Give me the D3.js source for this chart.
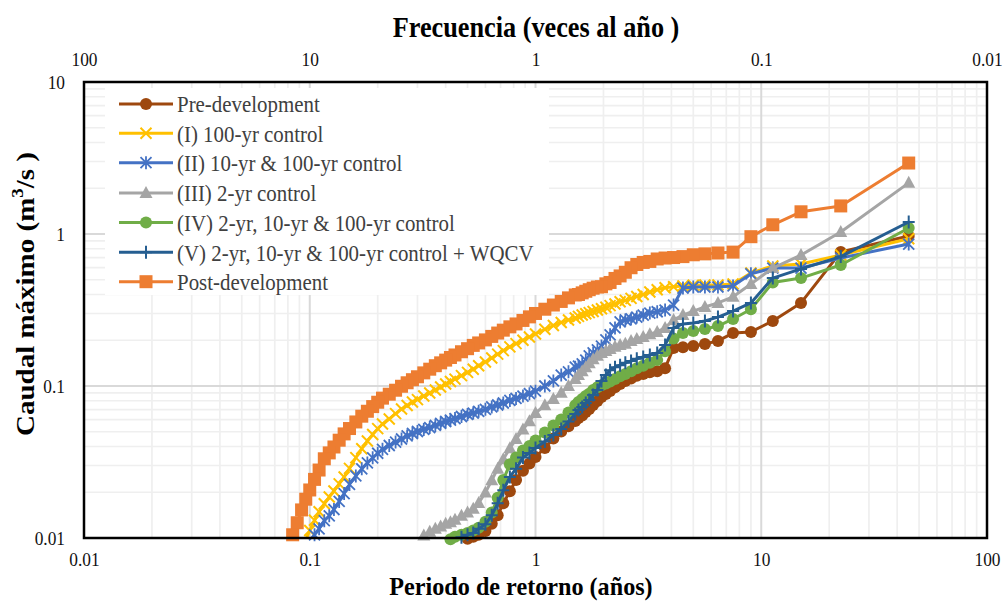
<!DOCTYPE html>
<html><head><meta charset="utf-8">
<script src="https://cdn.jsdelivr.net/npm/d3@7"></script>
<style>body{margin:0;background:#fff}svg{display:block}</style>
</head><body><svg id="chart" width="1004" height="601"></svg>
<script>
// Return period (years) shared by all series
const returnPeriod = [45, 22.5, 15, 11.25, 9, 7.5, 6.43, 5.63, 5, 4.5, 4.09, 3.75, 3.46, 3.21, 3, 2.81, 2.65, 2.5, 2.37, 2.25, 2.14, 2.05, 1.96, 1.88, 1.8, 1.73, 1.67, 1.61, 1.55, 1.5,
  1.4, 1.3, 1.2, 1.1, 1.0,
  0.94, 0.88, 0.82, 0.77, 0.72, 0.68, 0.64, 0.60, 0.56, 0.53, 0.50, 0.47, 0.44, 0.42, 0.40, 0.38, 0.36, 0.34, 0.32, 0.30,
  0.285, 0.27, 0.255, 0.24, 0.225, 0.21, 0.20, 0.19, 0.18, 0.17, 0.16, 0.15, 0.142, 0.135, 0.128, 0.122, 0.116, 0.11, 0.105, 0.10,
  0.096, 0.092, 0.088, 0.084, 0.080];

const preDevelopment = [0.97, 0.761, 0.352, 0.268, 0.227, 0.223, 0.198, 0.189, 0.183, 0.18, 0.178, 0.131, 0.125, 0.123, 0.12, 0.117, 0.112, 0.108, 0.103, 0.098, 0.0928, 0.0886, 0.0846, 0.0797, 0.075, 0.0706, 0.0674, 0.0639, 0.0616, 0.0588,
  0.0544, 0.0502, 0.0451, 0.0391, 0.0341,
  0.0309, 0.0277, 0.0241, 0.0203, 0.0169, 0.0141, 0.0124, 0.0111, 0.0105, 0.0102, 0.0099, 0.0097, null, null, null, null, null, null, null, null,
  null, null, null, null, null, null, null, null, null, null, null, null, null, null, null, null, null, null, null, null,
  null, null, null, null, null];

const control100 = [0.93, 0.727, 0.635, 0.616, 0.554, 0.469, 0.462, 0.462, 0.46, 0.455, 0.45, 0.443, 0.43, 0.415, 0.40, 0.388, 0.377, 0.366, 0.358, 0.346, 0.338, 0.33, 0.322, 0.316, 0.309, 0.304, 0.299, 0.293, 0.287, 0.28,
  0.272, 0.262, 0.25, 0.236, 0.22,
  0.21, 0.20, 0.19, 0.181, 0.171, 0.162, 0.153, 0.144, 0.136, 0.129, 0.123, 0.117, 0.111, 0.107, 0.103, 0.0985, 0.0941, 0.0899, 0.0859, 0.0814,
  0.0785, 0.0744, 0.0706, 0.0658, 0.0607, 0.0562, 0.0524, 0.048, 0.0435, 0.0387, 0.0338, 0.0287, 0.0252, 0.0227, 0.0204, 0.0186, 0.0168, 0.0149, 0.0131, 0.0112,
  0.0097, null, null, null, null];

const control10and100 = [0.859, 0.695, 0.597, 0.597, 0.547, 0.455, 0.448, 0.448, 0.448, 0.441, 0.341, 0.316, 0.308, 0.302, 0.293, 0.284, 0.276, 0.272, 0.264, 0.241, 0.217, 0.201, 0.183, 0.173, 0.165, 0.158, 0.148, 0.14, 0.135, 0.133,
  0.124, 0.118, 0.108, 0.10, 0.0925,
  0.089, 0.0859, 0.0828, 0.0804, 0.0773, 0.075, 0.0728, 0.0702, 0.0681, 0.0664, 0.065, 0.063, 0.0611, 0.0597, 0.0584, 0.0567, 0.055, 0.0533, 0.0518, 0.0502,
  0.0487, 0.0469, 0.0448, 0.0428, 0.0406, 0.0383, 0.0361, 0.0337, 0.0312, 0.0285, 0.0256, 0.0225, 0.0196, 0.0174, 0.0154, 0.014, 0.013, 0.0115, 0.0105, 0.0096,
  null, null, null, null, null];

const control2 = [2.17, 1.03, 0.727, 0.597, 0.469, 0.386, 0.352, 0.331, 0.311, 0.293, 0.272, 0.241, 0.227, 0.219, 0.21, 0.204, 0.198, 0.19, 0.186, 0.181, 0.175, 0.17, 0.165, 0.158, 0.15, 0.141, 0.133, 0.125, 0.118, 0.111,
  0.10, 0.0903, 0.0821, 0.0746, 0.0664,
  0.0587, 0.0517, 0.0448, 0.0389, 0.033, 0.0286, 0.024, 0.0199, 0.017, 0.0156, 0.0147, 0.014, 0.0132, 0.0127, 0.0124, 0.0119, 0.0115, 0.011, 0.0104, 0.0097,
  null, null, null, null, null, null, null, null, null, null, null, null, null, null, null, null, null, null, null, null,
  null, null, null, null, null];

const control2_10_100 = [1.095, 0.625, 0.513, 0.48, 0.32, 0.276, 0.248, 0.237, 0.23, 0.223, 0.205, 0.169, 0.148, 0.142, 0.136, 0.131, 0.125, 0.12, 0.116, 0.111, 0.107, 0.104, 0.101, 0.098, 0.0941, 0.089, 0.0859, 0.0821, 0.0785, 0.0746,
  0.0669, 0.0603, 0.055, 0.0495, 0.0438,
  0.0403, 0.0376, 0.0339, 0.0306, 0.0241, 0.0184, 0.0147, 0.0128, 0.0117, 0.0112, 0.0108, 0.0105, 0.0102, 0.0098, null, null, null, null, null, null,
  null, null, null, null, null, null, null, null, null, null, null, null, null, null, null, null, null, null, null, null,
  null, null, null, null, null];

const control2_10_100_wqcv = [1.2, 0.71, 0.589, 0.513, 0.352, 0.311, 0.284, 0.268, 0.26, 0.256, 0.241, 0.186, 0.165, 0.16, 0.155, 0.151, 0.146, 0.142, 0.137, 0.133, 0.127, 0.118, 0.108, 0.0941, 0.0873, 0.0809, 0.0773, 0.0728, 0.0695, 0.0654,
  0.0584, 0.0522, 0.0476, 0.0432, 0.0391,
  0.0362, 0.0338, 0.0286, 0.0252, 0.0206, 0.0169, 0.0141, 0.0123, 0.0115, 0.0108, 0.0105, 0.0101, 0.0097, null, null, null, null, null, null, null,
  null, null, null, null, null, null, null, null, null, null, null, null, null, null, null, null, null, null, null, null,
  null, null, null, null, null];

const postDevelopment = [2.93, 1.53, 1.40, 1.15, 0.96, 0.76, 0.75, 0.74, 0.73, 0.71, 0.70, 0.695, 0.685, 0.66, 0.65, 0.63, 0.60, 0.56, 0.53, 0.51, 0.48, 0.47, 0.45, 0.448, 0.44, 0.43, 0.42, 0.41, 0.40, 0.397,
  0.38, 0.36, 0.341, 0.32, 0.30,
  0.285, 0.27, 0.256, 0.245, 0.233, 0.223, 0.212, 0.201, 0.192, 0.185, 0.176, 0.168, 0.160, 0.154, 0.148, 0.142, 0.136, 0.129, 0.122, 0.115,
  0.110, 0.105, 0.0996, 0.0938, 0.0883, 0.0832, 0.0782, 0.0732, 0.0682, 0.0633, 0.058, 0.0525, 0.0484, 0.044, 0.0397, 0.0363, 0.0332, 0.028, 0.0243, 0.0207,
  0.018, 0.0153, 0.0126, 0.0105, 0.0088];

const seriesNames = ["Pre-development", "(I) 100-yr control", "(II) 10-yr & 100-yr control", "(III) 2-yr control",
  "(IV) 2-yr, 10-yr & 100-yr control", "(V) 2-yr, 10-yr & 100-yr control + WQCV", "Post-development"];
const seriesValues = [preDevelopment, control100, control10and100, control2, control2_10_100, control2_10_100_wqcv, postDevelopment];
const seriesColors = ["#9E480E", "#FFC000", "#4472C4", "#A5A5A5", "#70AD47", "#255E91", "#ED7D31"];
const seriesMarkers = ["circle", "x", "star", "triangle", "circle", "plus", "square"];

const xTickValues = [0.01, 0.1, 1, 10, 100];
const xTickLabels = ["0.01", "0.1", "1", "10", "100"];
const topTickValues = [100, 10, 1, 0.1, 0.01];
const topTickLabels = ["100", "10", "1", "0.1", "0.01"];
const yTickValues = [0.01, 0.1, 1, 10];
const yTickLabels = ["0.01", "0.1", "1", "10"];

const svg = d3.select("#chart");
const L = 84, R = 987, T = 82, B = 538;
const font = "'Liberation Serif','Times New Roman',serif";
const SX = 0.89; // horizontal squeeze of the lettering

const x = d3.scaleLog().domain([0.01, 100]).range([L, R]);
const xTop = d3.scaleLog().domain([100, 0.01]).range([L, R]);
const y = d3.scaleLog().domain([0.01, 10]).range([B, T]);

// gridlines
const grid = svg.append("g");
const isMajor = v => Math.abs(Math.log10(v) - Math.round(Math.log10(v))) < 1e-9;
x.ticks().filter(v => !isMajor(v)).forEach(v => grid.append("line").attr("x1", x(v)).attr("x2", x(v)).attr("y1", T).attr("y2", B).attr("stroke", "#efefef").attr("stroke-width", 1.7));
y.ticks().filter(v => !isMajor(v)).forEach(v => grid.append("line").attr("y1", y(v)).attr("y2", y(v)).attr("x1", L).attr("x2", R).attr("stroke", "#efefef").attr("stroke-width", 1.7));
xTickValues.forEach(v => grid.append("line").attr("x1", x(v)).attr("x2", x(v)).attr("y1", T).attr("y2", B).attr("stroke", "#d9d9d9").attr("stroke-width", 2));
yTickValues.forEach(v => grid.append("line").attr("y1", y(v)).attr("y2", y(v)).attr("x1", L).attr("x2", R).attr("stroke", "#d9d9d9").attr("stroke-width", 2));

// axes labels
const axB = d3.axisBottom(x).tickValues(xTickValues).tickFormat((d, i) => xTickLabels[i]).tickSize(0).tickPadding(0);
const gB = svg.append("g").attr("transform", `translate(0,${B})`).call(axB);
const axTop = d3.axisTop(xTop).tickValues(topTickValues).tickFormat((d, i) => topTickLabels[i]).tickSize(0).tickPadding(0);
const gT = svg.append("g").attr("transform", `translate(0,${T})`).call(axTop);
const axL = d3.axisLeft(y).tickValues(yTickValues).tickFormat((d, i) => yTickLabels[i]).tickSize(0).tickPadding(0);
const gL = svg.append("g").attr("transform", `translate(${L},0)`).call(axL);
[gB, gT, gL].forEach(g => { g.select(".domain").remove(); g.selectAll("text").attr("font-family", font).attr("font-size", 19.5).attr("fill", "#111").attr("transform", `scale(${SX},1)`); });
gB.selectAll("text").attr("y", 28.5).attr("dy", 0);
gT.selectAll("text").attr("y", -16).attr("dy", 0);
gL.selectAll("text").attr("x", -19 / SX).attr("dy", "0.33em");

// clip for lines
svg.append("clipPath").attr("id", "plotClip").append("rect").attr("x", L).attr("y", T).attr("width", R - L).attr("height", B - T);

function marker(g, type, color, cx, cy) {
  const s = 5.5;
  if (type === "circle") {
    g.append("circle").attr("cx", cx).attr("cy", cy).attr("r", 6).attr("fill", color);
  } else if (type === "square") {
    g.append("rect").attr("x", cx - 6.5).attr("y", cy - 6.5).attr("width", 13).attr("height", 13).attr("fill", color);
  } else if (type === "triangle") {
    g.append("path").attr("d", `M${cx},${cy - 7}L${cx + 6.5},${cy + 5}L${cx - 6.5},${cy + 5}Z`).attr("fill", color);
  } else if (type === "x") {
    g.append("path").attr("d", `M${cx - s},${cy - s}L${cx + s},${cy + s}M${cx + s},${cy - s}L${cx - s},${cy + s}`).attr("stroke", color).attr("stroke-width", 2).attr("fill", "none");
  } else if (type === "star") {
    g.append("path").attr("d", `M${cx - s},${cy - s}L${cx + s},${cy + s}M${cx + s},${cy - s}L${cx - s},${cy + s}M${cx},${cy - 6.5}L${cx},${cy + 6.5}`).attr("stroke", color).attr("stroke-width", 1.8).attr("fill", "none");
  } else if (type === "plus") {
    g.append("path").attr("d", `M${cx - 6},${cy}L${cx + 6},${cy}M${cx},${cy - 6.5}L${cx},${cy + 6.5}`).attr("stroke", color).attr("stroke-width", 2).attr("fill", "none");
  }
}

const line = d3.line().x(d => x(d.t)).y(d => y(d.q));
seriesValues.forEach((vals, si) => {
  const pts = returnPeriod.map((t, i) => ({ t, q: vals[i] })).filter(d => d.q != null);
  const g = svg.append("g");
  g.append("path").datum(pts).attr("d", line).attr("fill", "none").attr("stroke", seriesColors[si]).attr("stroke-width", 3).attr("stroke-linejoin", "round").attr("clip-path", "url(#plotClip)");
  pts.filter(d => d.q >= 0.0098).forEach(d => marker(g, seriesMarkers[si], seriesColors[si], x(d.t), y(d.q)));
});

// plot border
svg.append("rect").attr("x", L).attr("y", T).attr("width", R - L).attr("height", B - T).attr("fill", "none").attr("stroke", "#000").attr("stroke-width", 2.5);

// legend
const lg = svg.append("g");
lg.append("rect").attr("x", 105).attr("y", 88).attr("width", 444).attr("height", 207).attr("fill", "#fff");
const rowY = [104, 133.3, 162.7, 193, 222.5, 252.3, 281.7];
seriesNames.forEach((name, i) => {
  const yy = rowY[i];
  lg.append("line").attr("x1", 119).attr("x2", 173).attr("y1", yy).attr("y2", yy).attr("stroke", seriesColors[i]).attr("stroke-width", 3);
  marker(lg, seriesMarkers[i], seriesColors[i], 146, yy);
  lg.append("text").attr("transform", `translate(177,${yy}) scale(${SX},1)`).attr("dy", "0.35em").attr("font-family", font).attr("font-size", 23.5).attr("fill", "#404040").text(name);
});

// titles
svg.append("text").attr("transform", `translate(536,37) scale(${SX},1)`).attr("text-anchor", "middle").attr("font-family", font).attr("font-weight", "bold").attr("font-size", 29.5).text("Frecuencia (veces al año )");
svg.append("text").attr("transform", `translate(521,594.5) scale(0.93,1)`).attr("text-anchor", "middle").attr("font-family", font).attr("font-weight", "bold").attr("font-size", 26).text("Periodo de retorno (años)");
const yt = svg.append("text").attr("transform", `translate(34,294) scale(${SX},1) rotate(-90)`).attr("text-anchor", "middle").attr("font-family", font).attr("font-weight", "bold").attr("font-size", 29);
yt.append("tspan").text("Caudal máximo (m");
yt.append("tspan").attr("font-size", 19).attr("dy", -12).text("3");
yt.append("tspan").attr("dy", 12).text("/s )");
</script></body></html>
